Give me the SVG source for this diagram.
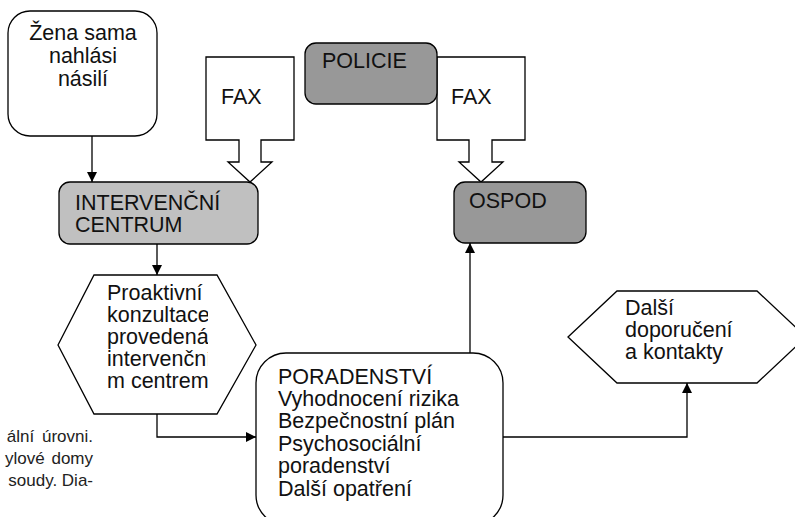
<svg xmlns="http://www.w3.org/2000/svg" width="795" height="517" viewBox="0 0 795 517">
<style>
.s{stroke:#000;stroke-width:1.3;fill:#fff}
.l{stroke:#000;stroke-width:1.3;fill:none}
.t{font-family:"Liberation Sans",Arial,sans-serif;font-size:21.5px;fill:#111}
.sm{font-family:"Liberation Sans",Arial,sans-serif;font-size:17px;fill:#222}
</style>
<defs>
<marker id="ah" viewBox="0 0 10 10" refX="10" refY="5" markerWidth="10" markerHeight="11" markerUnits="userSpaceOnUse" orient="auto">
<path d="M0,0 L10,5 L0,10 Z" fill="#000"/>
</marker>
<clipPath id="hexclip"><rect x="90" y="270" width="118" height="150"/></clipPath>
</defs>
<rect width="795" height="517" fill="#fff"/>
<g id="fax-left">
<polygon class="s" points="206,57 294,57 294,140 261,140 261,162 272,162 250,182 228,162 239,162 239,140 206,140"/>
<text class="t" x="221" y="104">FAX</text>
</g>
<g id="fax-right">
<polygon class="s" points="437,57 525,57 525,140 492,140 492,162 503,162 481,182 459,162 469,162 469,140 437,140"/>
<text class="t" x="451" y="104">FAX</text>
</g>
<g id="zena">
<rect class="s" x="8" y="11" width="149" height="125" rx="22"/>
<text class="t" text-anchor="middle" x="83" y="40">Žena sama</text>
<text class="t" text-anchor="middle" x="83" y="63">nahlási</text>
<text class="t" text-anchor="middle" x="83" y="86">násilí</text>
</g>
<g id="intervencni">
<rect class="s" x="59" y="182" width="199" height="62" rx="11" style="fill:#c0c0c0"/>
<text class="t" x="75" y="210">INTERVENČNÍ</text>
<text class="t" x="75" y="232">CENTRUM</text>
</g>
<g id="policie">
<rect class="s" x="305" y="43" width="132" height="61" rx="11" style="fill:#989898"/>
<text class="t" x="322" y="68">POLICIE</text>
</g>
<g id="ospod">
<rect class="s" x="454" y="182" width="132" height="61" rx="11" style="fill:#989898"/>
<text class="t" x="469" y="208">OSPOD</text>
</g>
<g id="proaktivni">
<polygon class="s" points="58,345 94,275 217,275 256,345 217,414 94,414"/>
<g clip-path="url(#hexclip)">
<text class="t" x="107" y="300">Proaktivní</text>
<text class="t" x="107" y="322">konzultace</text>
<text class="t" x="107" y="344">provedená</text>
<text class="t" x="107" y="366">intervenční</text>
<text class="t" x="107" y="388">m centrem</text>
</g>
</g>
<g id="poradenstvi">
<rect class="s" x="256" y="353" width="247" height="172" rx="30"/>
<text class="t" x="278" y="384">PORADENSTVÍ</text>
<text class="t" x="278" y="406">Vyhodnocení rizika</text>
<text class="t" x="278" y="428">Bezpečnostní plán</text>
<text class="t" x="278" y="451">Psychosociální</text>
<text class="t" x="278" y="473">poradenství</text>
<text class="t" x="278" y="496">Další opatření</text>
</g>
<g id="dalsi">
<polygon class="s" points="568,337 617,291 757,291 806,337 757,383 617,383"/>
<text class="t" x="625" y="315">Další</text>
<text class="t" x="625" y="337">doporučení</text>
<text class="t" x="625" y="359">a kontakty</text>
</g>
<g id="connectors">
<line class="l" x1="92" y1="136" x2="92" y2="182" marker-end="url(#ah)"/>
<line class="l" x1="157" y1="244" x2="157" y2="275" marker-end="url(#ah)"/>
<polyline class="l" points="157,414 157,437 256,437" marker-end="url(#ah)"/>
<line class="l" x1="470" y1="353" x2="470" y2="243" marker-end="url(#ah)"/>
<polyline class="l" points="503,437 687,437 687,383" marker-end="url(#ah)"/>
</g>
<g id="fragment">
<text class="sm" text-anchor="end" x="93" y="442" word-spacing="3">ální úrovni.</text>
<text class="sm" text-anchor="end" x="93" y="464" word-spacing="2">ylové domy</text>
<text class="sm" text-anchor="end" x="93" y="486">soudy. Dia-</text>
</g>
</svg>
